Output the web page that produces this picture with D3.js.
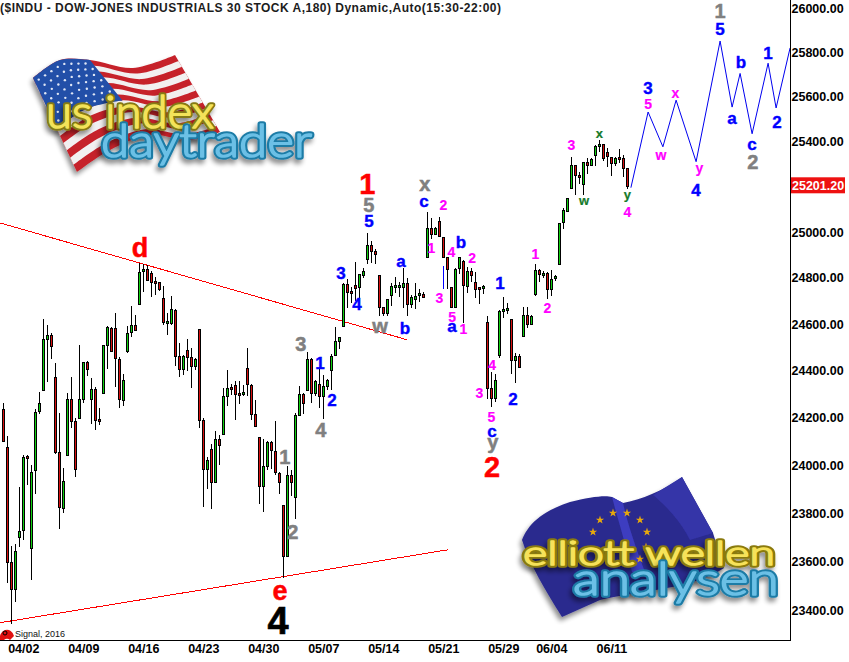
<!DOCTYPE html>
<html><head><meta charset="utf-8">
<style>html,body{margin:0;padding:0;background:#fff}svg{display:block}text{font-family:"Liberation Sans",Arial,sans-serif}</style>
<script src="https://cdn.jsdelivr.net/npm/d3@7/dist/d3.min.js"></script></head><body>
<svg id="c" width="849" height="662"></svg>
<script>
const titleText="($INDU - DOW-JONES INDUSTRIALS 30 STOCK A,180) Dynamic,Auto(15:30-22:00)";
const priceTicks=[26000,25800,25600,25400,25000,24800,24600,24400,24200,24000,23800,23600,23400];
const lastPrice=25201.2;
const dateLabels=["04/02","04/09","04/16","04/23","04/30","05/07","05/14","05/21","05/29","06/04","06/11"];
const dateBars=[5,20,35,50,65,80,95,110,125,137,152];
const opens=[24237,24078,23598,23487,23701,23730,24040,23656,23981,24229,24319,24537,24554,24374,24057,23822,24044,24280,24187,24199,24280,24439,24280,24323,24195,24306,24511,24584,24584,24451,24276,24486,24567,24597,24687,24831,24840,24823,24788,24783,24713,24605,24605,24661,24464,24408,24490,24460,24421,24580,24191,23985,24069,23931,24111,24132,24293,24331,24340,24306,24302,24413,24340,24216,24120,23914,23998,24099,24061,23968,23834,23623,23960,23868,24212,24302,24319,24451,24306,24344,24293,24336,24404,24469,24528,24593,24775,24744,24770,24761,24814,24883,24944,24918,24814,24674,24648,24727,24761,24761,24761,24779,24687,24709,24727,24731,24892,25019,24992,25049,24979,24892,24761,24674,24844,24875,24766,24831,24783,24761,24757,24609,24327,24284,24469,24657,24661,24622,24447,24464,24550,24639,24601,24731,24836,24814,24823,24752,24801,24862,25045,25093,25195,25296,25252,25212,25309,25296,25340,25380,25389,25354,25332,25305,25332,25327,25283];
const highs=[24263,24124,23664,23672,23910,24044,24044,24002,24237,24310,24622,24597,24563,24434,24220,23989,24306,24374,24199,24511,24439,24443,24370,24331,24241,24511,24593,24589,24648,24460,24387,24593,24678,24639,24866,24862,24857,24831,24805,24783,24766,24648,24722,24665,24520,24469,24537,24498,24456,24580,24199,24036,24090,24145,24128,24327,24404,24344,24357,24357,24340,24498,24344,24276,24120,24111,24103,24103,24187,23973,23834,23998,23981,24220,24336,24306,24481,24456,24361,24413,24383,24366,24473,24589,24546,24779,24796,24761,24870,24818,24844,24997,24962,24927,24814,24674,24709,24779,24805,24783,24844,24801,24727,24779,24752,24740,25088,25062,25023,25066,24979,24892,24761,24844,24892,24879,24849,24844,24827,24761,24770,24635,24396,24387,24661,24718,24691,24622,24477,24473,24674,24674,24639,24862,24840,24831,24827,24836,24814,25040,25106,25150,25332,25296,25265,25309,25327,25327,25385,25407,25389,25371,25332,25332,25367,25340,25283];
const lows=[24103,23516,23347,23437,23664,23693,23922,23528,23884,24220,24319,24357,24456,24052,23739,23805,24044,24162,23956,24199,24267,24383,24179,24153,24174,24306,24413,24486,24336,24246,24254,24481,24550,24576,24687,24744,24792,24722,24731,24748,24601,24558,24601,24426,24378,24387,24404,24331,24408,24162,23830,23905,23822,23931,24006,24132,24254,24302,24195,24263,24297,24297,24195,24166,23843,23809,23985,23989,23964,23884,23536,23623,23876,23780,24212,24220,24319,24267,24297,24246,24199,24323,24323,24469,24498,24593,24674,24696,24705,24718,24805,24866,24870,24866,24639,24639,24639,24683,24740,24722,24674,24639,24674,24670,24700,24718,24892,24975,24992,24984,24892,24757,24674,24674,24823,24609,24740,24788,24718,24691,24735,24284,24250,24272,24460,24631,24648,24391,24353,24417,24550,24589,24601,24727,24788,24805,24713,24727,24792,24862,25019,25093,25195,25168,25217,25168,25261,25296,25296,25358,25318,25292,25252,25296,25309,25248,25195];
const closes=[24103,23598,23487,23643,23726,24036,24031,23973,24225,24263,24537,24554,24507,24057,23826,23935,24280,24187,23985,24280,24439,24408,24323,24191,24187,24511,24589,24486,24456,24280,24361,24563,24597,24576,24827,24840,24792,24783,24779,24752,24609,24614,24665,24464,24408,24464,24460,24421,24451,24191,23985,24023,23931,24111,24086,24293,24327,24323,24302,24297,24310,24344,24216,24166,23914,23998,24099,24065,23973,23931,23623,23960,23931,24212,24302,24263,24451,24306,24357,24293,24336,24361,24464,24528,24546,24775,24740,24735,24757,24818,24831,24944,24918,24905,24674,24648,24709,24766,24770,24770,24779,24687,24718,24722,24735,24718,25019,24992,25019,24984,24892,24840,24674,24840,24892,24770,24831,24814,24752,24752,24766,24327,24284,24361,24657,24665,24670,24447,24464,24417,24639,24601,24635,24836,24818,24823,24752,24796,24809,25040,25097,25150,25296,25252,25243,25309,25296,25323,25380,25389,25327,25336,25305,25327,25323,25283,25201];
const projectionBars=[156.9,161.2,164.9,168.2,173.2,179.2,182.2,184.2,187.2,191.2,193.2,196.7];
const projectionPrices=[25195,25531,25376,25584,25310,25850,25553,25704,25434,25750,25549,25819];
const strayBars=[110,110], strayPrices=[24853,24753];
const upperTrendBars=[-0.8,101], upperTrendPrices=[25040,24533];
const lowerTrendBars=[-0.8,111.2], lowerTrendPrices=[23348,23648];
const waveLabels=[["d",34.2,24892,"redM"],["1",91,25168,"redL"],["5",91.4,25088,"gray"],["5",91.4,25023,"blue"],["x",105.4,25181,"gray"],["c",105.2,25110,"blue"],["2",110,25097,"mag"],["1",107,24910,"mag"],["b",114.4,24932,"blue"],["4",112,24892,"mag"],["2",117.2,24866,"mag"],["a",99.4,24849,"blue"],["3",84.4,24796,"blue"],["4",88.4,24661,"blue"],["w",94.2,24563,"gray"],["b",100.4,24558,"blue"],["3",109,24691,"mag"],["5",112.2,24609,"mag"],["a",112.2,24567,"blue"],["1",115,24558,"mag"],["4",122.2,24404,"mag"],["1",124.2,24752,"blue"],["3",119,24284,"mag"],["5",122,24183,"mag"],["c",122.2,24120,"blue"],["y",122.4,24069,"gray"],["2",122.2,23952,"redL"],["2",127.4,24254,"blue"],["2",136,24648,"mag"],["1",133,24883,"mag"],["3",142,25363,"mag"],["x",149,25416,"green"],["w",145.2,25119,"green"],["y",156,25146,"green"],["4",156,25066,"mag"],["w",164.4,25318,"mag"],["1",179.2,25954,"gray"],["5",179.2,25878,"blue"],["3",161.2,25612,"blue"],["5",161.2,25545,"mag"],["x",168,25594,"mag"],["y",174,25261,"mag"],["4",173.2,25159,"blue"],["a",182.2,25478,"blue"],["b",184.4,25729,"blue"],["c",187.2,25363,"blue"],["2",187.4,25279,"gray"],["1",191.2,25770,"blue"],["2",193.4,25460,"blue"],["3",74.4,24486,"gray"],["1",79.2,24408,"blue"],["2",82.2,24250,"blue"],["4",79.4,24120,"gray"],["1",70.4,24006,"gray"],["2",72.4,23693,"gray"],["e",69.2,23441,"redM"],["4",68.7,23302,"black"]];
const toneStyle={redL:["#ff0000",29,0.5],redM:["#ff0000",27,0.5],gray:["#808080",20,0.5],blue:["#0000ff",17,0.4],mag:["#ff00ff",14,0.2],green:["#157a2a",13,0.2],black:["#000",38,0.6]};

const svg=d3.select("#c");
const plotRight=790, plotBottom=640;
const x=d3.scaleLinear().domain([0,196.675]).range([3.3,plotRight]);
const y=d3.scaleLog().domain([23400,26000]).range([610,8]);
const col=i=>Math.floor(x(i));
const py=p=>Math.round(y(p));

// ---- logos ----
const defs=svg.append("defs");
defs.append("filter").attr("id","sh").attr("x","-10%").attr("y","-10%").attr("width","125%").attr("height","130%")
 .html('<feGaussianBlur in="SourceAlpha" stdDeviation="2.5"/><feOffset dx="-2" dy="4"/><feComponentTransfer><feFuncA type="linear" slope="0.45"/></feComponentTransfer><feMerge><feMergeNode/><feMergeNode in="SourceGraphic"/></feMerge>');
const logo=svg.append("g");
const curve=d3.line().curve(d3.curveCatmullRom);
const topEdge=[[33,78],[60,60],[90,60],[133,68],[175,55]];
const botEdge=[[77,172],[110,150],[150,135],[190,140],[220,132]];
const mix=v=>topEdge.map((p,k)=>[p[0]+(botEdge[k][0]-p[0])*v,p[1]+(botEdge[k][1]-p[1])*v]);
const closedBand=(a,b)=>curve(a)+"L"+curve(b.slice().reverse()).slice(1)+"Z";
const fl=logo.append("g").attr("filter","url(#sh)");
fl.append("path").attr("d",closedBand(mix(0),mix(1))).attr("fill","#c6202a");
for(let k=1;k<13;k+=2){fl.append("path").attr("d",closedBand(mix(k/13),mix((k+1)/13))).attr("fill","#f2f0f0");}
const cantonTop=mix(0).slice(0,3), cantonBot=mix(0.54).slice(0,3);
fl.append("path").attr("d",closedBand(cantonTop,cantonBot)).attr("fill","#2450a8");
for(let a=0;a<8;a++)for(let b=0;b<7;b++){
  const u=(a+0.6+(b%2)*0.4)/8.6*2, v=(b+0.6)/7.4*0.54, m=mix(v), i0=Math.min(1,Math.floor(u)), t=u-i0;
  fl.append("circle").attr("cx",m[i0][0]+(m[i0+1][0]-m[i0][0])*t).attr("cy",m[i0][1]+(m[i0+1][1]-m[i0][1])*t).attr("r",1.2).attr("fill","#dfe6f5");
}
const euFlag=logo.append("g").attr("filter","url(#sh)");
euFlag.append("path").attr("d","M522,540C528,525 540,512 570,502C590,497 605,495 612,497L623,503C640,500 665,490 682,477L713,533L724,568C690,590 640,590 600,600L562,617C545,590 530,565 522,540Z").attr("fill","#2b2a8e");
euFlag.append("path").attr("d","M612,497L623,503C628,525 636,548 645,572L632,572C626,545 618,520 612,497Z").attr("fill","#3c3cc0");
euFlag.append("path").attr("d","M653,495L682,477L713,533L690,540C680,520 665,505 653,495Z").attr("fill","#3434a8");
const euStars=[[600,520],[613,513],[627,513],[640,520],[647,532],[646,547],[640,559],[600,558],[593,532]];
const starPath=d3.symbol().type(d3.symbolStar).size(22);
logo.selectAll(".s").data(euStars).join("path").attr("d",starPath).attr("transform",d=>`translate(${d[0]},${d[1]})`).attr("fill","#e8a90c");
function logoText(t,xp,yp,len,fs,fill,stroke,sw){
  const mk=()=>logo.append("text").text(t).attr("x",xp).attr("y",yp).attr("textLength",len).attr("lengthAdjust","spacingAndGlyphs")
   .style("font-family","Lato,'Noto Sans',sans-serif").style("font-size",fs+"px").style("font-weight",300).attr("stroke-linejoin","round");
  mk().attr("fill",stroke).attr("stroke",stroke).attr("stroke-width",sw).attr("filter","url(#sh)");
  mk().attr("fill",fill).attr("stroke",fill).attr("stroke-width",1.6);
}
logoText("us index",46,128,168,46,"#f3e35a","#857a12",5.5);
logoText("daytrader",101,157,211,46,"#6cc0e6","#1f7ba6",5.5);
logoText("elliott wellen",523,565,252,33,"#f6e25a","#8a7a10",5.5);
logoText("analysen",573,595,206,46,"#6cc0e6","#1f7ba6",5.5);

// ---- title ----
svg.append("text").text(titleText).attr("x",0).attr("y",12).style("font-size","12px").style("font-weight",700).attr("fill","#1c1c1c").attr("textLength",501).attr("lengthAdjust","spacing");

// ---- trend lines ----
const ln=d3.line().x(d=>x(d[0])).y(d=>y(d[1]));
const zip=(a,b)=>a.map((v,i)=>[v,b[i]]);
[[upperTrendBars,upperTrendPrices],[lowerTrendBars,lowerTrendPrices]].forEach(([a,b])=>{
  svg.append("path").attr("d",ln(zip(a,b))).attr("fill","none").attr("stroke","#f00").attr("stroke-width",1).attr("shape-rendering","crispEdges");
});
svg.append("path").attr("d",ln(zip(strayBars,strayPrices))).attr("fill","none").attr("stroke","#00f").attr("shape-rendering","crispEdges");

// ---- candles: wick, black body outline, one-pixel colour core ----
const bars=svg.append("g").attr("shape-rendering","crispEdges");
const bodyTop=i=>py(Math.max(opens[i],closes[i])), bodyBot=i=>py(Math.min(opens[i],closes[i]));
bars.selectAll("rect.w").data(opens).join("rect").attr("class","w")
 .attr("x",(d,i)=>col(i)).attr("width",1).attr("y",(d,i)=>py(highs[i])).attr("height",(d,i)=>Math.max(1,py(lows[i])-py(highs[i])+1)).attr("fill","#000");
bars.selectAll("rect.o").data(opens).join("rect").attr("class","o")
 .attr("x",(d,i)=>col(i)-1).attr("width",3).attr("y",(d,i)=>bodyTop(i)).attr("height",(d,i)=>bodyBot(i)-bodyTop(i)+1).attr("fill","#000");
bars.selectAll("rect.f").data(opens).join("rect").attr("class","f")
 .attr("x",(d,i)=>col(i)).attr("width",1).attr("y",(d,i)=>bodyTop(i)+1).attr("height",(d,i)=>Math.max(0,bodyBot(i)-bodyTop(i)-1))
 .attr("fill",(d,i)=>closes[i]>d?"#10d010":"#d81010");

// ---- projection ----
svg.append("path").attr("d",ln(zip(projectionBars,projectionPrices))).attr("fill","none").attr("stroke","#0000f0").attr("stroke-width",1);

// ---- wave labels ----
svg.append("g").selectAll("text").data(waveLabels).join("text").text(d=>d[0])
 .attr("x",d=>x(d[1])).attr("y",d=>y(d[2])).attr("text-anchor","middle")
 .attr("fill",d=>toneStyle[d[3]][0]).attr("stroke",d=>toneStyle[d[3]][0]).attr("stroke-width",d=>toneStyle[d[3]][2])
 .style("font-size",d=>toneStyle[d[3]][1]+"px").style("font-weight",700);

// ---- axes ----
const yAxis=d3.axisRight(y).tickValues(priceTicks).tickSize(0).tickPadding(1).tickFormat(d3.format(".2f"));
const yg=svg.append("g").attr("transform",`translate(${plotRight+0.5},0)`).call(yAxis);
yg.select(".domain").attr("d",`M0,0V${plotBottom+0.5}`).attr("stroke","#000").attr("shape-rendering","crispEdges");
yg.selectAll("text").style("font-family","'Liberation Sans'").style("font-size","12.5px").style("font-weight",700).attr("fill","#000");
const xb=d3.scaleOrdinal().domain(dateLabels).range(dateBars.map(b=>x(b)));
const xAxis=d3.axisBottom(xb).tickSize(0).tickPadding(4);
const xg=svg.append("g").attr("transform",`translate(0,${plotBottom+0.5})`).call(xAxis);
xg.select(".domain").attr("d",`M0,0H${plotRight}`).attr("stroke","#000").attr("shape-rendering","crispEdges");
xg.selectAll("text").style("font-family","'Liberation Sans'").style("font-size","12.5px").style("font-weight",700).attr("fill","#000");

// ---- last price tag ----
svg.append("rect").attr("x",plotRight+1).attr("y",y(lastPrice)-9).attr("width",54).attr("height",16).attr("fill","#ee1111");
svg.append("text").text(d3.format(".2f")(lastPrice)).attr("x",plotRight+2).attr("y",y(lastPrice)+3.5).attr("fill","#fff").style("font-size","12.5px").style("font-weight",700);

// ---- signal mark ----
const sig=svg.append("g");
sig.append("path").attr("d","M0,640A7,8 0 0 1 14,636L10,640A4,4 0 0 0 4,640Z").attr("fill","#e01010");
sig.append("circle").attr("cx",5).attr("cy",633).attr("r",2).attr("fill","none").attr("stroke","#000");
svg.append("text").text("Signal, 2016").attr("x",15).attr("y",637).style("font-size","9px").attr("fill","#111");
</script></body></html>
